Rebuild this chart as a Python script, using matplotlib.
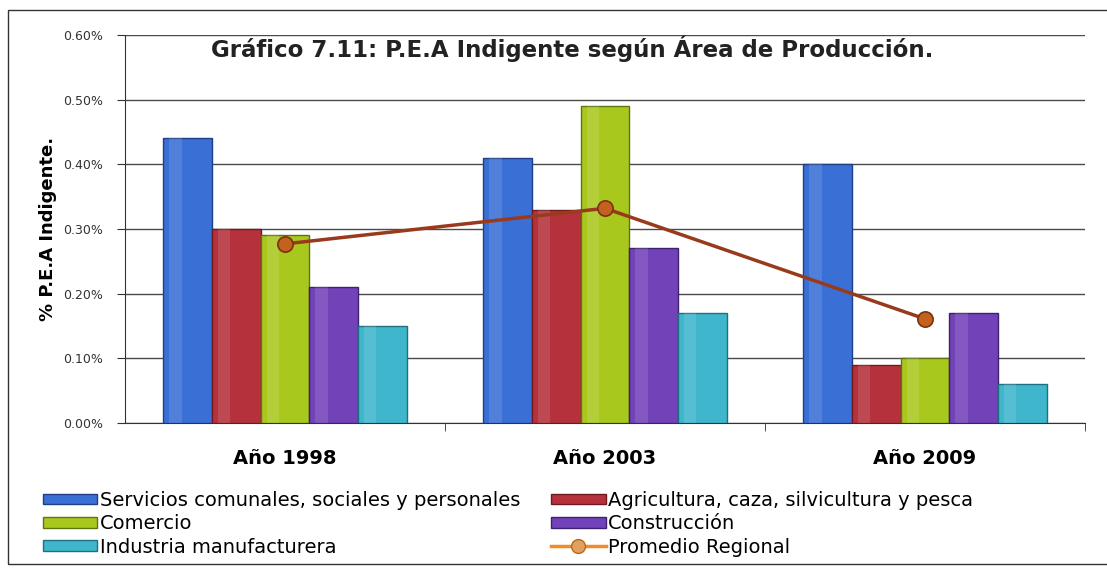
import matplotlib
matplotlib.use("Agg")
import matplotlib.pyplot as plt
import numpy as np
from matplotlib.patches import Rectangle
from matplotlib.lines import Line2D
from matplotlib.patches import Patch

plt.rcParams['font.family'] = ['DejaVu Sans']

categories = ["Año 1998", "Año 2003", "Año 2009"]
series_names = ["Servicios comunales, sociales y personales",
                "Agricultura, caza, silvicultura y pesca",
                "Comercio", "Construcción", "Industria manufacturera"]
servicios = [0.44, 0.41, 0.40]
agricultura = [0.30, 0.33, 0.09]
comercio = [0.29, 0.49, 0.10]
construccion = [0.21, 0.27, 0.17]
industria = [0.15, 0.17, 0.06]
promedio = [0.277, 0.332, 0.161]
promedio_name = "Promedio Regional"
yticks = [0.0, 0.1, 0.2, 0.3, 0.4, 0.5, 0.6]

colors = ["#3a6fd6", "#b5323c", "#a9c81e", "#7242b8", "#3fb6cc"]
edges = ["#1f3f88", "#6e1a20", "#5f7410", "#3e2270", "#1f6f80"]

W, H = 1107, 570
fig = plt.figure(figsize=(W / 100, H / 100), dpi=100)
ax = fig.add_axes([125 / W, 1 - 423 / H, (1085 - 125) / W, (423 - 35) / H])

x = np.arange(len(categories))
bw = 0.152
data = [servicios, agricultura, comercio, construccion, industria]
handles = []
for i, vals in enumerate(data):
    off = (i - 2) * bw
    ax.bar(x + off, vals, bw, color=colors[i], edgecolor=edges[i],
           linewidth=1.0, zorder=3)
    ax.bar(x + off - bw * 0.25, vals, bw * 0.25, color="white", alpha=0.12,
           linewidth=0, zorder=3.5)
    handles.append(Patch(facecolor=colors[i], edgecolor=edges[i], label=series_names[i]))

ax.plot(x, promedio, color="#9a3a1c", linewidth=2.5, zorder=5)
ax.plot(x, promedio, linestyle="none", marker="o", markersize=11,
        markerfacecolor="#c2621e", markeredgecolor="#7a3210", markeredgewidth=1.2, zorder=6)
line_handle = Line2D([], [], color="#f08a2a", linewidth=2.5, marker="o", markersize=10,
                     markerfacecolor="#e0a060", markeredgecolor="#b86a20", label=promedio_name)

ax.set_xlim(-0.5, 2.5)
ax.set_ylim(0, 0.6)
ax.set_yticks(yticks)
ax.set_yticklabels([f"{v:.2f}%" for v in yticks], fontsize=9, color="#333333")
ax.yaxis.grid(True, color="#4a4a4a", linewidth=1.0, zorder=0)
ax.set_axisbelow(True)
ax.set_xticks(x)
ax.set_xticklabels(categories, fontsize=14, fontweight="bold")
ax.tick_params(axis="x", length=0, pad=19)
ax.set_xticks([0.5, 1.5, 2.5], minor=True)
ax.tick_params(axis="x", which="minor", length=6, direction="out", color="#333333")
ax.tick_params(axis="y", length=6, direction="out", color="#333333", pad=10)
for s in ["top", "right"]:
    ax.spines[s].set_visible(False)
ax.spines["left"].set_color("#333333")
ax.spines["bottom"].set_color("#333333")

ax.set_ylabel("% P.E.A Indigente.", fontsize=13, fontweight="bold")
ax.yaxis.set_label_coords(-68 / (1085 - 125), 0.5)

fig.text(572 / W, 1 - 49 / H, "Gráfico 7.11: P.E.A Indigente según Área de Producción.",
         ha="center", va="center", fontsize=16.5, fontweight="bold", color="#222222")

order = [handles[0], handles[2], handles[4], handles[1], handles[3], line_handle]
leg = fig.legend(handles=order, loc="upper left", bbox_to_anchor=(43 / W, 1 - 491 / H),
                 ncol=2, frameon=False, fontsize=14, handlelength=2.8, handleheight=0.46,
                 handletextpad=0.12, labelspacing=0.22, columnspacing=1.6,
                 borderaxespad=0, borderpad=0)

fig.add_artist(Rectangle((8 / W, 0.01), 1 - 8 / W + 0.01, 1 - 10 / H - 0.01,
                         transform=fig.transFigure, fill=False, edgecolor="#333333",
                         linewidth=1.0))

fig.savefig("out.png", dpi=100, facecolor="white")
